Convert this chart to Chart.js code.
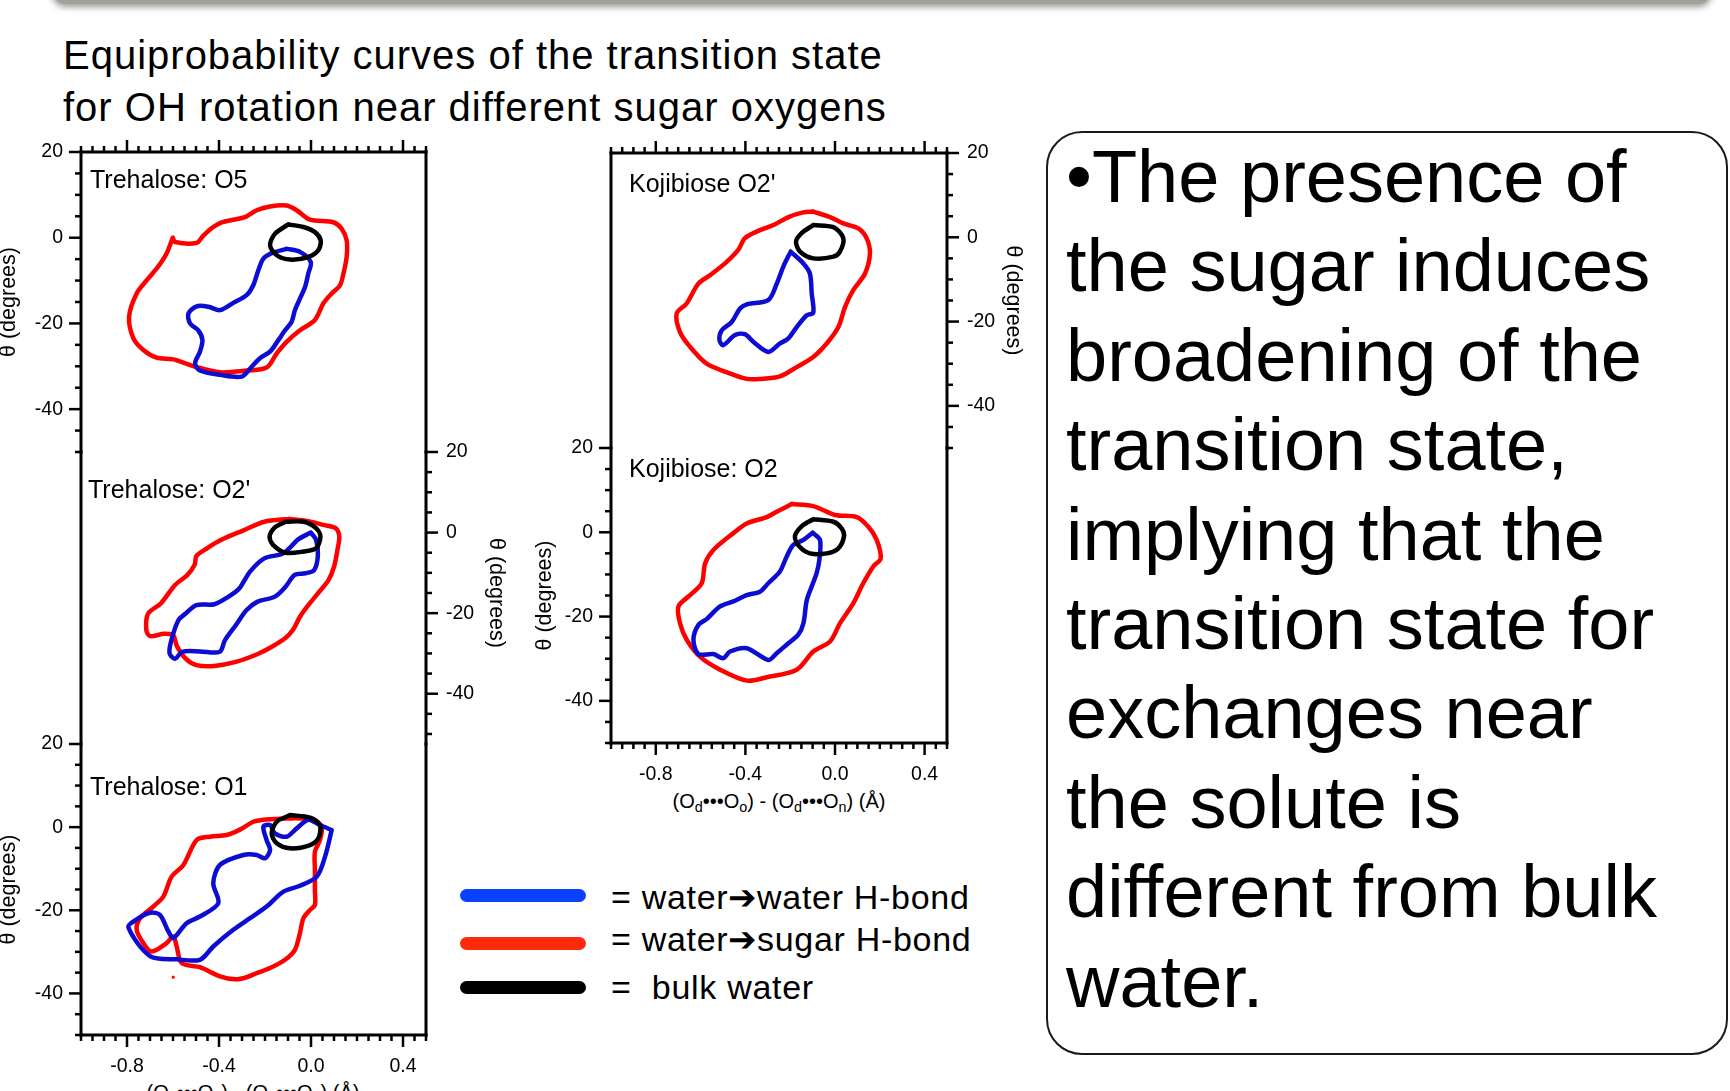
<!DOCTYPE html>
<html>
<head>
<meta charset="utf-8">
<title>Equiprobability curves of the transition state</title>
<script src="https://cdn.jsdelivr.net/npm/chart.js@4.4.1/dist/chart.umd.min.js"></script>
<style>
  html, body { margin: 0; padding: 0; width: 1730px; height: 1091px; overflow: hidden; background: #fff; }
  body { position: relative; font-family: "Liberation Sans", Arial, Helvetica, sans-serif; color: #000; }
  canvas { position: absolute; }
  .txt { position: absolute; white-space: nowrap; }
  .topbar { position: absolute; left: 52px; top: -40px; width: 1660px; height: 44px; border-radius: 14px;
            background: #9ea39a; box-shadow: 0 3px 6px rgba(50, 55, 45, 0.5); }
  .title { left: 63px; top: 30px; font-size: 40px; line-height: 51.7px; letter-spacing: 1px; }
  .plabel { font-size: 25px; line-height: 25px; }
  .xtitle { font-size: 20px; line-height: 24px; transform: translateX(-50%); }
  .xtitle sub { font-size: 0.72em; vertical-align: -0.25em; line-height: 0; }
  .swatch { position: absolute; left: 460px; width: 126px; height: 13px; border-radius: 7px; }
  .leg { left: 611px; font-size: 34px; line-height: 40px; letter-spacing: 0.7px; }
  .box { position: absolute; left: 1046px; top: 131px; width: 678px; height: 920px; border: 2px solid #1a1a1a; border-radius: 36px; }
  .boxtext { left: 1066px; top: 132px; font-size: 74px; line-height: 89.4px; }
</style>
</head>
<body>
<div class="topbar"></div>
<div class="txt title">Equiprobability curves of the transition state<br>for OH rotation near different sugar oxygens</div>

<div class="swatch" style="top:889px; background:#0a40ff;"></div>
<div class="swatch" style="top:937px; background:#ff2a0a;"></div>
<div class="swatch" style="top:981px; background:#000;"></div>
<div class="txt leg" style="top:877px;">= water➔water H-bond</div>
<div class="txt leg" style="top:919px;">= water➔sugar H-bond</div>
<div class="txt leg" style="top:967px;">=&nbsp; bulk water</div>

<div class="box"></div>
<div class="txt boxtext">•The presence of<br>the sugar induces<br>broadening of the<br>transition state,<br>implying that the<br>transition state for<br>exchanges near<br>the solute is<br>different from bulk<br>water.</div>

<div class="txt xtitle" style="left:779px; top:789px;">(O<sub>d</sub>•••O<sub>o</sub>) - (O<sub>d</sub>•••O<sub>n</sub>) (Å)</div>
<div class="txt xtitle" style="left:253px; top:1080px;">(O<sub>d</sub>•••O<sub>o</sub>) - (O<sub>d</sub>•••O<sub>n</sub>) (Å)</div>

<script>
// axis ticks shared by every panel
const yTickValues = [20, 0, -20, -40];
const yTickLabels = ['20', '0', '-20', '-40'];
const yMinorTicks = [15, 10, 5, -5, -10, -15, -25, -30, -35, -45, -50];
const xTickValues = [-0.8, -0.4, 0.0, 0.4];
const xTickLabels = ['-0.8', '-0.4', '0.0', '0.4'];
const xMinorTicks = [-1.0, -0.95, -0.9, -0.85, -0.75, -0.7, -0.65, -0.6, -0.55, -0.5, -0.45,
  -0.35, -0.3, -0.25, -0.2, -0.15, -0.1, -0.05, 0.05, 0.1, 0.15, 0.2, 0.25, 0.3, 0.35, 0.45, 0.5];

// Trehalose: O5
const treO5Sugar = [[-0.601, 0], [-0.591, -1.0], [-0.497, -1.2], [-0.468, 0.5], [-0.425, 2.5], [-0.388, 3.6],
  [-0.338, 4.2], [-0.287, 4.8], [-0.236, 6.4], [-0.178, 7.3], [-0.106, 7.5], [-0.062, 6.4], [-0.004, 4.2],
  [0.097, 3.6], [0.133, 2.1], [0.155, -0.6], [0.155, -4.5], [0.141, -8.4], [0.126, -11.1], [0.090, -13.0],
  [0.054, -15.3], [0.017, -19.2], [-0.048, -21.6], [-0.106, -24.3], [-0.149, -27.0], [-0.193, -30.3],
  [-0.280, -31.0], [-0.396, -31.4], [-0.497, -30.2], [-0.599, -28.4], [-0.671, -28.0], [-0.729, -26.2],
  [-0.772, -23.5], [-0.791, -18.4], [-0.758, -13.0], [-0.714, -9.9], [-0.664, -6.7], [-0.628, -3.7]];
const treO5Water = [[-0.106, -2.6], [-0.048, -3.3], [-0.001, -5.7], [-0.012, -8.4], [-0.026, -11.5],
  [-0.048, -14.2], [-0.070, -16.9], [-0.084, -19.6], [-0.113, -21.6], [-0.142, -23.9], [-0.178, -26.6],
  [-0.222, -28.1], [-0.258, -30.1], [-0.301, -32.4], [-0.396, -32.0], [-0.483, -31.0], [-0.504, -29.3],
  [-0.483, -26.6], [-0.472, -23.9], [-0.490, -21.6], [-0.526, -20.0], [-0.533, -17.7], [-0.497, -16.0],
  [-0.446, -16.1], [-0.396, -16.9], [-0.338, -15.2], [-0.280, -13.4], [-0.251, -11.1], [-0.229, -7.6],
  [-0.207, -4.9], [-0.171, -3.6]];
const treO5Bulk = [[-0.099, 3.1], [-0.033, 2.5], [0.017, 1.3], [0.042, -0.6], [0.032, -2.9], [-0.012, -4.5],
  [-0.091, -5.1], [-0.149, -4.1], [-0.178, -1.8], [-0.157, 0.9]];

// Trehalose: O2'
const treO2pSugar = [[-0.094, 3.4], [-0.017, 2.9], [0.053, 1.9], [0.107, 1.1], [0.123, -1.0], [0.115, -4.3],
  [0.100, -8.5], [0.076, -11.8], [0.030, -15.1], [-0.017, -18.4], [-0.048, -20.9], [-0.079, -24.2],
  [-0.110, -26.1], [-0.172, -28.4], [-0.234, -30.2], [-0.327, -32.1], [-0.420, -33.1], [-0.498, -32.9],
  [-0.545, -31.3], [-0.583, -28.2], [-0.599, -25.5], [-0.638, -25.1], [-0.700, -25.7], [-0.716, -24.2],
  [-0.708, -20.1], [-0.653, -17.6], [-0.591, -13.0], [-0.537, -10.5], [-0.506, -8.0], [-0.498, -5.8],
  [-0.452, -3.9], [-0.390, -1.8], [-0.296, 0.5], [-0.203, 2.7]];
const treO2pWater = [[-0.001, 0], [0.022, -1.8], [0.030, -5.6], [0.014, -9.3], [-0.024, -10.1], [-0.071, -10.5],
  [-0.110, -13.4], [-0.157, -15.9], [-0.234, -17.2], [-0.281, -19.3], [-0.327, -23.0], [-0.374, -26.7],
  [-0.397, -29.6], [-0.483, -29.5], [-0.560, -29.6], [-0.591, -31.3], [-0.615, -30.0], [-0.607, -26.7],
  [-0.576, -21.7], [-0.545, -20.1], [-0.498, -18.0], [-0.420, -17.8], [-0.358, -15.9], [-0.312, -13.9],
  [-0.265, -9.7], [-0.203, -6.4], [-0.126, -5.3], [-0.087, -3.5], [-0.056, -1.7]];
const treO2pBulk = [[-0.110, 2.7], [-0.032, 2.7], [0.022, 1.1], [0.041, -1.0], [0.022, -3.9], [-0.032, -4.7],
  [-0.110, -5.0], [-0.164, -3.1], [-0.180, -1.0], [-0.157, 1.3]];

// Trehalose: O1
const treO1Sugar = [[-0.207, 1.8], [-0.106, 2.1], [0.010, 1.8], [0.046, 0.1], [0.039, -3.1], [0.017, -5.9],
  [0.017, -10.3], [0.017, -15.1], [0.017, -18.7], [-0.004, -19.9], [-0.033, -21.9], [-0.048, -25.5],
  [-0.070, -29.5], [-0.113, -31.9], [-0.178, -33.9], [-0.236, -35.1], [-0.280, -36.1], [-0.330, -36.6],
  [-0.396, -35.9], [-0.483, -33.7], [-0.562, -32.7], [-0.584, -28.7], [-0.599, -26.3], [-0.628, -27.9],
  [-0.693, -29.9], [-0.729, -27.9], [-0.758, -24.7], [-0.743, -21.9], [-0.686, -19.1], [-0.642, -16.7],
  [-0.606, -11.9], [-0.555, -9.1], [-0.497, -3.1], [-0.439, -2.3], [-0.367, -1.9], [-0.309, -0.6], [-0.251, 1.3]];
const treO1SugarSpeck = [[-0.599, -36.1]];
const treO1Water = [[0.090, -0.7], [0.061, -7.1], [0.025, -11.9], [-0.048, -14.1], [-0.120, -15.5],
  [-0.193, -19.1], [-0.265, -21.9], [-0.338, -24.7], [-0.425, -28.7], [-0.483, -31.9], [-0.584, -31.8],
  [-0.700, -31.0], [-0.794, -24.1], [-0.758, -22.2], [-0.700, -20.6], [-0.657, -21.1], [-0.620, -25.1],
  [-0.599, -26.7], [-0.541, -23.1], [-0.483, -21.5], [-0.403, -18.3], [-0.425, -13.5], [-0.396, -9.1],
  [-0.294, -6.7], [-0.236, -6.7], [-0.200, -7.5], [-0.178, -5.5], [-0.193, -3.1], [-0.207, 0.1],
  [-0.178, 0.5], [-0.157, -1.5], [-0.106, -2.3], [-0.062, -0.3], [-0.012, 1.8], [0.039, 0.5]];
const treO1Bulk = [[-0.091, 2.9], [-0.004, 2.3], [0.039, 0.5], [0.032, -2.7], [-0.004, -4.3], [-0.091, -5.1],
  [-0.149, -3.9], [-0.171, -1.5], [-0.149, 1.3]];

// Kojibiose O2'
const kojO2pSugar = [[-0.097, 6.1], [-0.022, 4.8], [0.037, 3.3], [0.104, 2.1], [0.141, -0.2], [0.156, -3.8],
  [0.134, -8.6], [0.082, -12.5], [0.045, -16.5], [0.015, -21.3], [-0.037, -25.2], [-0.097, -28.4],
  [-0.171, -30.8], [-0.246, -33.0], [-0.335, -33.6], [-0.394, -33.6], [-0.484, -32.0], [-0.573, -30.0],
  [-0.647, -26.0], [-0.692, -22.5], [-0.707, -18.1], [-0.662, -15.7], [-0.610, -11.0], [-0.558, -9.0],
  [-0.491, -6.2], [-0.432, -3.0], [-0.402, -0.2], [-0.335, 1.7], [-0.275, 2.9], [-0.208, 4.8], [-0.141, 5.9]];
const kojO2pWater = [[-0.198, -3.4], [-0.141, -6.2], [-0.112, -8.6], [-0.104, -13.3], [-0.097, -17.9],
  [-0.126, -18.5], [-0.171, -21.3], [-0.208, -24.0], [-0.246, -25.2], [-0.298, -27.2], [-0.365, -24.8],
  [-0.402, -23.0], [-0.446, -23.2], [-0.499, -25.6], [-0.516, -24.4], [-0.506, -22.1], [-0.461, -20.1],
  [-0.424, -16.9], [-0.394, -15.9], [-0.298, -14.9], [-0.260, -11.0], [-0.231, -7.0]];
const kojO2pBulk = [[-0.097, 2.9], [-0.007, 2.4], [0.037, -0.2], [0.022, -3.4], [-0.007, -4.6], [-0.097, -5.0],
  [-0.156, -3.4], [-0.174, -1.0], [-0.149, 1.0]];

// Kojibiose: O2
const kojO2Sugar = [[-0.193, 6.7], [-0.097, 6.2], [0, 4.1], [0.097, 3.6], [0.149, 1.3], [0.186, -1.8],
  [0.204, -6.2], [0.171, -8.1], [0.126, -12.1], [0.082, -16.8], [0.022, -21.6], [-0.022, -25.9],
  [-0.097, -28.3], [-0.171, -32.6], [-0.305, -34.4], [-0.394, -35.2], [-0.513, -32.6], [-0.603, -29.5],
  [-0.662, -25.5], [-0.692, -21.6], [-0.699, -17.6], [-0.647, -14.9], [-0.595, -12.1], [-0.580, -7.4],
  [-0.543, -4.2], [-0.454, -0.2], [-0.394, 2.1], [-0.305, 3.6], [-0.260, 4.9]];
const kojO2Water = [[-0.100, -0.1], [-0.067, -1.8], [-0.070, -6.6], [-0.082, -9.7], [-0.100, -12.3],
  [-0.126, -16.1], [-0.141, -21.6], [-0.164, -24.3], [-0.216, -26.7], [-0.260, -28.7], [-0.298, -30.3],
  [-0.394, -27.5], [-0.469, -28.3], [-0.499, -29.9], [-0.543, -28.9], [-0.610, -28.9], [-0.632, -25.5],
  [-0.610, -22.0], [-0.573, -20.6], [-0.513, -17.6], [-0.454, -16.4], [-0.394, -14.9], [-0.335, -14.1],
  [-0.298, -12.1], [-0.246, -9.3], [-0.216, -5.8], [-0.186, -3.0], [-0.141, -1.8]];
const kojO2Bulk = [[-0.097, 3.1], [-0.007, 2.5], [0.030, 0.9], [0.040, -1.0], [0.015, -3.8], [-0.037, -5.0],
  [-0.112, -5.0], [-0.159, -3.4], [-0.179, -1.0], [-0.149, 1.4]];

const panels = [
  { label: 'Trehalose: O5', labelAt: [90, 167], area: { left: 81, top: 152, right: 426, bottom: 452 },
    yPos: 'left', xAxis: false, titlePad: 5, frame: ['top', 'left', 'right'], ticks: ['top', 'left'],
    sugar: treO5Sugar, water: treO5Water, bulk: treO5Bulk },
  { label: "Trehalose: O2'", labelAt: [88, 477], area: { left: 81, top: 452, right: 426, bottom: 734 },
    yPos: 'right', xAxis: false, titlePad: 7, frame: ['left', 'right'], ticks: ['right'], extendBottom: 10,
    sugar: treO2pSugar, water: treO2pWater, bulk: treO2pBulk },
  { label: 'Trehalose: O1', labelAt: [90, 774], area: { left: 81, top: 744, right: 426, bottom: 1035 },
    yPos: 'left', xAxis: true, titlePad: 5, frame: ['left', 'right', 'bottom'], ticks: ['left', 'bottom'],
    sugar: treO1Sugar, water: treO1Water, bulk: treO1Bulk, speck: treO1SugarSpeck },
  { label: "Kojibiose O2'", labelAt: [629, 171], area: { left: 611, top: 153, right: 947, bottom: 448 },
    yPos: 'right', xAxis: false, titlePad: 11, frame: ['top', 'left', 'right'], ticks: ['top', 'right'],
    sugar: kojO2pSugar, water: kojO2pWater, bulk: kojO2pBulk },
  { label: 'Kojibiose: O2', labelAt: [629, 456], area: { left: 611, top: 448, right: 947, bottom: 743 },
    yPos: 'left', xAxis: true, titlePad: 11, frame: ['left', 'right', 'bottom'], ticks: ['left', 'bottom'],
    sugar: kojO2Sugar, water: kojO2Water, bulk: kojO2Bulk }
];

Chart.defaults.font.family = '"Liberation Sans", Arial, Helvetica, sans-serif';
Chart.defaults.color = '#000';

// draws the box sides and the outward tick marks (long = labelled, short = minor)
const frameTicks = {
  id: 'frameTicks',
  afterDraw(chart, args, o) {
    const { ctx, chartArea: a } = chart;
    const xs = chart.scales.x, ys = chart.scales.y;
    const seg = (x1, y1, x2, y2) => { ctx.beginPath(); ctx.moveTo(x1, y1); ctx.lineTo(x2, y2); ctx.stroke(); };
    const ext = o.extendBottom || 0;
    ctx.save();
    ctx.strokeStyle = '#000';
    ctx.lineWidth = 3;
    ctx.lineCap = 'square';
    if (o.frame.includes('top')) seg(a.left, a.top, a.right, a.top);
    if (o.frame.includes('bottom')) seg(a.left, a.bottom, a.right, a.bottom);
    if (o.frame.includes('left')) seg(a.left, a.top, a.left, a.bottom + ext);
    if (o.frame.includes('right')) seg(a.right, a.top, a.right, a.bottom + ext);
    ctx.lineWidth = 2.5;
    ctx.lineCap = 'butt';
    const mark = (side, v, len) => {
      if (side === 'top' || side === 'bottom') {
        const px = xs.getPixelForValue(v);
        if (side === 'top') seg(px, a.top, px, a.top - len);
        else seg(px, a.bottom, px, a.bottom + len);
      } else {
        const py = ys.getPixelForValue(v);
        if (side === 'left') seg(a.left, py, a.left - len, py);
        else seg(a.right, py, a.right + len, py);
      }
    };
    o.ticks.forEach(side => {
      const isX = side === 'top' || side === 'bottom';
      (isX ? xTickValues : yTickValues).forEach(v => mark(side, v, 12));
      (isX ? xMinorTicks : yMinorTicks).forEach(v => mark(side, v, 6));
    });
    ctx.restore();
  }
};

const closed = pts => pts.concat([pts[0]]).map(([x, y]) => ({ x, y }));
const line = (pts, color) => ({
  data: closed(pts), borderColor: color, borderWidth: 4.5, showLine: true, fill: false,
  pointRadius: 0, pointHoverRadius: 0, tension: 0.3, borderJoinStyle: 'round', borderCapStyle: 'round'
});

function buildPanel(p) {
  // the y tick labels ask for half a line + their padding above and below the plot
  const yW = 90, xH = 60, side = 20, edge = 34;
  const padding = {
    top: edge,
    left: p.yPos === 'left' ? 0 : side,
    right: p.yPos === 'right' ? 0 : side,
    bottom: p.xAxis ? 0 : edge
  };
  const w = padding.left + padding.right + yW + (p.area.right - p.area.left);
  const h = padding.top + padding.bottom + (p.xAxis ? xH : 0) + (p.area.bottom - p.area.top);
  const canvas = document.createElement('canvas');
  canvas.width = w;
  canvas.height = h;
  canvas.style.width = w + 'px';
  canvas.style.height = h + 'px';
  canvas.style.left = (p.area.left - padding.left - (p.yPos === 'left' ? yW : 0)) + 'px';
  canvas.style.top = (p.area.top - padding.top) + 'px';
  document.body.appendChild(canvas);

  const lbl = document.createElement('div');
  lbl.className = 'txt plabel';
  lbl.textContent = p.label;
  lbl.style.left = p.labelAt[0] + 'px';
  lbl.style.top = p.labelAt[1] + 'px';
  document.body.appendChild(lbl);

  // black first so it is painted on top
  const datasets = [line(p.bulk, '#000000'), line(p.water, '#0c0cd2'), line(p.sugar, '#ff0000')];
  if (p.speck) {
    datasets.push({ data: p.speck.map(([x, y]) => ({ x, y })), showLine: false, pointStyle: 'rect',
      pointRadius: 2, pointBorderWidth: 0, pointBackgroundColor: '#ff0000' });
  }

  new Chart(canvas, {
    type: 'scatter',
    data: { datasets },
    plugins: [frameTicks],
    options: {
      responsive: false,
      animation: false,
      devicePixelRatio: 1,
      events: [],
      layout: { padding },
      plugins: {
        legend: { display: false },
        tooltip: { enabled: false },
        frameTicks: { frame: p.frame, ticks: p.ticks, extendBottom: p.extendBottom }
      },
      scales: {
        x: {
          type: 'linear', min: -1.0, max: 0.5, bounds: 'data', position: 'bottom', display: p.xAxis,
          grid: { display: false, drawTicks: false }, border: { display: false },
          afterBuildTicks: s => { s.ticks = xTickValues.map(v => ({ value: v })); },
          afterFit: s => { s.height = p.xAxis ? xH : 0; },
          ticks: { autoSkip: false, maxRotation: 0, padding: 20, color: '#000', font: { size: 19.5 },
            callback: (v, i) => xTickLabels[i] }
        },
        y: {
          type: 'linear', min: -50, max: 20, bounds: 'data', position: p.yPos,
          grid: { display: false, drawTicks: false }, border: { display: false },
          afterBuildTicks: s => { s.ticks = yTickValues.map(v => ({ value: v })); },
          afterFit: s => { s.width = yW; },
          ticks: { autoSkip: false, padding: p.yPos === 'left' ? 18 : 20, color: '#000', font: { size: 19.5 },
            callback: (v, i) => yTickLabels[i] },
          title: { display: true, text: 'θ (degrees)', color: '#000', font: { size: 21.5 }, padding: p.titlePad }
        }
      }
    }
  });
}

panels.forEach(buildPanel);
</script>
</body>
</html>
